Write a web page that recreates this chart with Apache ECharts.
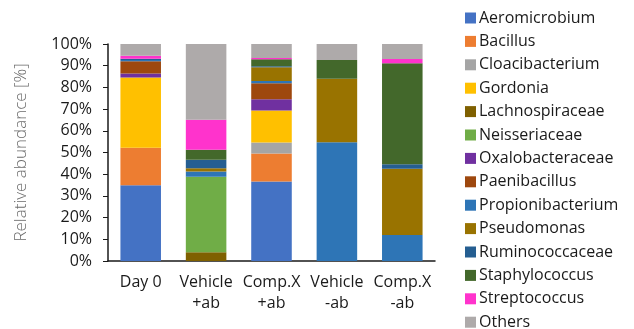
<!DOCTYPE html>
<html>
<head>
<meta charset="utf-8">
<script src="https://cdn.jsdelivr.net/npm/echarts@6/dist/echarts.min.js"></script>
<style>
  html, body { margin: 0; padding: 0; background: #fff; }
  #chart { width: 634px; height: 329px; }
</style>
</head>
<body>
<div id="chart"></div>
<script>
// Sample groups along the x axis
const categories = ['Day 0', 'Vehicle\n+ab', 'Comp.X\n+ab', 'Vehicle\n-ab', 'Comp.X\n-ab'];

// Relative abundance (%) of each taxon per sample group
const aeromicrobium     = [34.9, 0,    36.6, 0,    0];
const bacillus          = [17.3, 0,    12.9, 0,    0];
const cloacibacterium   = [0,    0,    5.1,  0,    0];
const gordonia          = [32.4, 0,    14.7, 0,    0];
const lachnospiraceae   = [0,    4.0,  0,    0,    0];
const neisseriaceae     = [0,    34.8, 0,    0,    0];
const oxalobacteraceae  = [1.8,  0,    5.2,  0,    0];
const paenibacillus     = [5.7,  0,    7.4,  0,    0];
const propionibacterium = [0.5,  2.5,  1.1,  54.7, 12.0];
const pseudomonas       = [0,    1.4,  6.3,  29.3, 30.5];
const ruminococcaceae   = [0.6,  4.0,  0.5,  0,    2.1];
const staphylococcus    = [0,    4.6,  3.2,  8.6,  46.5];
const streptococcus     = [1.4,  13.8, 0.5,  0,    2.0];
const others            = [5.4,  34.9, 6.5,  7.4,  6.9];

const taxa = [
  ['Aeromicrobium', aeromicrobium, '#4472C4'],
  ['Bacillus', bacillus, '#ED7D31'],
  ['Cloacibacterium', cloacibacterium, '#A5A5A5'],
  ['Gordonia', gordonia, '#FFC000'],
  ['Lachnospiraceae', lachnospiraceae, '#7F6000'],
  ['Neisseriaceae', neisseriaceae, '#70AD47'],
  ['Oxalobacteraceae', oxalobacteraceae, '#7030A0'],
  ['Paenibacillus', paenibacillus, '#9E480E'],
  ['Propionibacterium', propionibacterium, '#2E75B6'],
  ['Pseudomonas', pseudomonas, '#997300'],
  ['Ruminococcaceae', ruminococcaceae, '#255E91'],
  ['Staphylococcus', staphylococcus, '#43682B'],
  ['Streptococcus', streptococcus, '#FF33CC'],
  ['Others', others, '#AEAAAA']
];

const FONT = 'Open Sans';

const chart = echarts.init(document.getElementById('chart'), null, { renderer: 'canvas' });

chart.setOption({
  animation: false,
  backgroundColor: '#ffffff',
  grid: { left: 108, right: 199, top: 44, bottom: 68, containLabel: false },
  legend: {
    orient: 'vertical',
    left: 465,
    top: 10,
    height: 360,
    padding: 0,
    icon: 'rect',
    itemWidth: 11,
    itemHeight: 11,
    itemGap: 7.4,
    textStyle: { fontFamily: FONT, fontSize: 16, color: '#1a1a1a', lineHeight: 16, padding: [0, 0, 0, -2] },
    data: taxa.map(t => t[0])
  },
  xAxis: {
    type: 'category',
    data: categories,
    axisLine: { lineStyle: { color: '#1a1a1a', width: 1.5 } },
    axisTick: { show: false },
    axisLabel: { interval: 0, fontFamily: FONT, fontSize: 16, color: '#1a1a1a', lineHeight: 21, margin: 11 }
  },
  yAxis: {
    type: 'value',
    min: 0,
    max: 100,
    interval: 10,
    name: 'Relative abundance [%]',
    nameLocation: 'middle',
    nameGap: 78,
    nameTextStyle: { fontFamily: FONT, fontSize: 17, color: '#6b6b6b', fontWeight: 300 },
    axisLine: { show: true, lineStyle: { color: '#1a1a1a', width: 1.5 } },
    axisTick: { show: true, inside: false, length: 5, lineStyle: { color: '#1a1a1a' } },
    splitLine: { show: false },
    axisLabel: { fontFamily: FONT, fontSize: 16, color: '#1a1a1a', margin: 16, formatter: '{value}%' }
  },
  series: taxa.map(([name, values, color]) => ({
    name,
    type: 'bar',
    stack: 'abundance',
    barWidth: '62%',
    data: values,
    itemStyle: { color }
  }))
});
</script>
</body>
</html>
